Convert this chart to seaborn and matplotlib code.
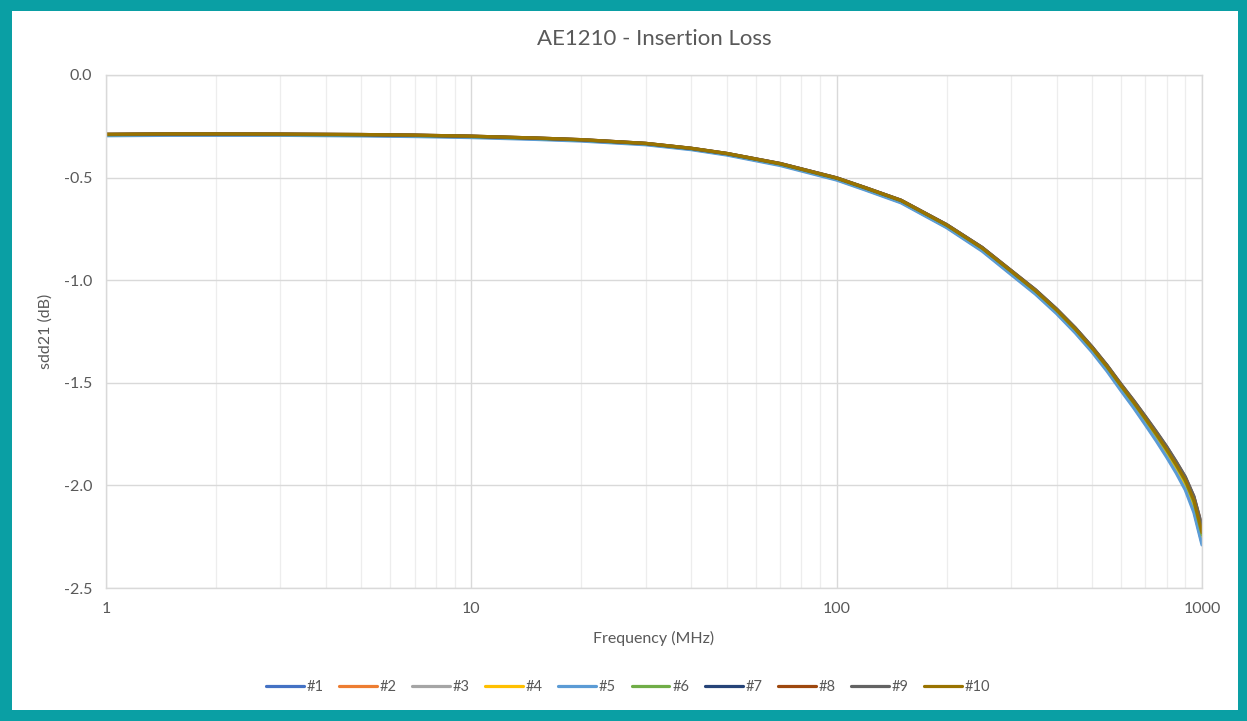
import pandas as pd
import matplotlib.pyplot as plt
import matplotlib.ticker as mticker
from matplotlib.patches import Rectangle
import seaborn as sns

# frequency points (MHz)
freq = [1, 1.5, 2, 3, 5, 7, 10, 15, 20, 30, 40, 50, 70, 100, 120,
        150, 200, 250, 300, 350, 400, 450, 500, 550, 600, 650, 700, 750, 800, 850, 900, 950, 1000]

# sdd21 (dB) per sample
s1 = [-0.293, -0.291, -0.291, -0.291, -0.294, -0.297, -0.302, -0.311, -0.319, -0.337, -0.361, -0.387, -0.438, -0.509, -0.558,
      -0.620, -0.741, -0.854, -0.968, -1.064, -1.158, -1.252, -1.345, -1.438, -1.532, -1.616, -1.698, -1.776, -1.852, -1.930, -2.010, -2.120, -2.280]
s2 = [-0.291, -0.289, -0.289, -0.290, -0.292, -0.295, -0.300, -0.309, -0.317, -0.335, -0.359, -0.384, -0.434, -0.504, -0.553,
      -0.614, -0.734, -0.846, -0.960, -1.056, -1.150, -1.243, -1.336, -1.428, -1.521, -1.603, -1.683, -1.760, -1.835, -1.910, -1.988, -2.090, -2.250]
s3 = [-0.291, -0.289, -0.289, -0.290, -0.292, -0.295, -0.300, -0.309, -0.317, -0.335, -0.359, -0.384, -0.434, -0.504, -0.553,
      -0.614, -0.733, -0.845, -0.958, -1.054, -1.148, -1.241, -1.333, -1.425, -1.518, -1.600, -1.679, -1.756, -1.830, -1.905, -1.982, -2.082, -2.240]
s4 = [-0.292, -0.290, -0.290, -0.290, -0.293, -0.296, -0.301, -0.310, -0.318, -0.336, -0.360, -0.385, -0.436, -0.506, -0.555,
      -0.616, -0.736, -0.849, -0.962, -1.058, -1.153, -1.246, -1.339, -1.432, -1.525, -1.607, -1.688, -1.765, -1.840, -1.916, -1.996, -2.100, -2.260]
s5 = [-0.296, -0.294, -0.294, -0.294, -0.297, -0.300, -0.305, -0.314, -0.322, -0.340, -0.364, -0.390, -0.441, -0.512, -0.561,
      -0.623, -0.744, -0.858, -0.972, -1.068, -1.163, -1.257, -1.350, -1.444, -1.538, -1.622, -1.705, -1.784, -1.862, -1.940, -2.022, -2.132, -2.290]
s6 = [-0.291, -0.289, -0.289, -0.290, -0.292, -0.295, -0.300, -0.309, -0.317, -0.335, -0.359, -0.384, -0.434, -0.504, -0.552,
      -0.613, -0.733, -0.844, -0.957, -1.053, -1.147, -1.240, -1.332, -1.424, -1.516, -1.598, -1.677, -1.754, -1.828, -1.903, -1.980, -2.080, -2.240]
s7 = [-0.290, -0.288, -0.288, -0.289, -0.291, -0.294, -0.299, -0.308, -0.316, -0.334, -0.358, -0.383, -0.432, -0.502, -0.550,
      -0.611, -0.730, -0.841, -0.954, -1.049, -1.143, -1.235, -1.327, -1.418, -1.510, -1.591, -1.669, -1.745, -1.818, -1.892, -1.966, -2.062, -2.210]
s8 = [-0.289, -0.287, -0.287, -0.288, -0.290, -0.293, -0.298, -0.307, -0.315, -0.333, -0.357, -0.382, -0.431, -0.501, -0.549,
      -0.610, -0.729, -0.840, -0.952, -1.047, -1.141, -1.233, -1.325, -1.416, -1.507, -1.587, -1.665, -1.740, -1.812, -1.886, -1.960, -2.055, -2.200]
s9 = [-0.289, -0.287, -0.287, -0.288, -0.290, -0.293, -0.298, -0.307, -0.315, -0.333, -0.357, -0.382, -0.431, -0.501, -0.549,
      -0.610, -0.729, -0.840, -0.952, -1.046, -1.140, -1.232, -1.324, -1.415, -1.506, -1.586, -1.664, -1.738, -1.810, -1.884, -1.958, -2.053, -2.200]
s10 = [-0.289, -0.287, -0.287, -0.288, -0.290, -0.293, -0.298, -0.307, -0.315, -0.333, -0.357, -0.382, -0.432, -0.502, -0.550,
       -0.611, -0.731, -0.843, -0.955, -1.051, -1.145, -1.238, -1.330, -1.421, -1.513, -1.594, -1.674, -1.750, -1.824, -1.899, -1.974, -2.072, -2.230]

series = [s1, s2, s3, s4, s5, s6, s7, s8, s9, s10]
labels = ['#1', '#2', '#3', '#4', '#5', '#6', '#7', '#8', '#9', '#10']
colors = ['#4472C4', '#ED7D31', '#A5A5A5', '#FFC000', '#5B9BD5',
          '#70AD47', '#264478', '#9E480E', '#636363', '#997300']

rows = []
for lab, vals in zip(labels, series):
    for f, v in zip(freq, vals):
        rows.append({'Frequency (MHz)': f, 'sdd21 (dB)': v, 'sample': lab})
df = pd.DataFrame(rows)

sns.set_style('white')
plt.rcParams['font.family'] = ['Lato', 'DejaVu Sans']
plt.rcParams['axes.unicode_minus'] = False
txt = '#595959'

fig = plt.figure(figsize=(12.47, 7.21), dpi=100)
fig.patch.set_facecolor('#0A9FA4')
fig.add_artist(Rectangle((12 / 1247, 11 / 721), 1226 / 1247, 699 / 721,
                         transform=fig.transFigure, facecolor='white',
                         edgecolor='none', zorder=-10))
ax = fig.add_axes([106 / 1247, 1 - 588 / 721, 1096 / 1247, 513 / 721])

sns.lineplot(data=df, x='Frequency (MHz)', y='sdd21 (dB)', hue='sample',
             palette=colors, hue_order=labels, linewidth=2.3, ax=ax,
             legend=True)

ax.set_xscale('log')
ax.set_xlim(1, 1000)
ax.set_ylim(-2.5, 0)
ax.set_yticks([0, -0.5, -1.0, -1.5, -2.0, -2.5])
ax.yaxis.set_major_formatter(mticker.FormatStrFormatter('%.1f'))
ax.xaxis.set_major_locator(mticker.FixedLocator([1, 10, 100, 1000]))
ax.xaxis.set_major_formatter(mticker.FuncFormatter(lambda v, p: f'{v:g}'))
ax.xaxis.set_minor_locator(mticker.LogLocator(base=10, subs=range(2, 10)))
ax.xaxis.set_minor_formatter(mticker.NullFormatter())

ax.grid(True, which='major', color='#D9D9D9', linewidth=1)
ax.grid(True, which='minor', axis='x', color='#EDEDED', linewidth=0.9)
ax.set_axisbelow(True)
for sp in ax.spines.values():
    sp.set_color('#D9D9D9')
    sp.set_linewidth(1)
ax.tick_params(axis='both', which='both', length=0, colors=txt, labelsize=11.5, pad=10)

ax.set_xlabel('Frequency (MHz)', color=txt, fontsize=11.5, labelpad=11)
ax.set_ylabel('sdd21 (dB)', color=txt, fontsize=11.5, labelpad=8)
fig.suptitle('AE1210 - Insertion Loss', x=(106 + 1202) / 2 / 1247, y=1 - 29 / 721,
             color=txt, fontsize=16, va='top')

ax.legend_.remove()
handles, labs = ax.get_legend_handles_labels()
fig.legend(handles, labs, loc='center', bbox_to_anchor=(628 / 1247, 1 - 687 / 721),
           ncol=10, frameon=False, handlelength=2.6, handletextpad=0.2,
           columnspacing=1.05, fontsize=10.5, labelcolor=txt)

fig.savefig('out.png', dpi=100, facecolor=fig.get_facecolor())
